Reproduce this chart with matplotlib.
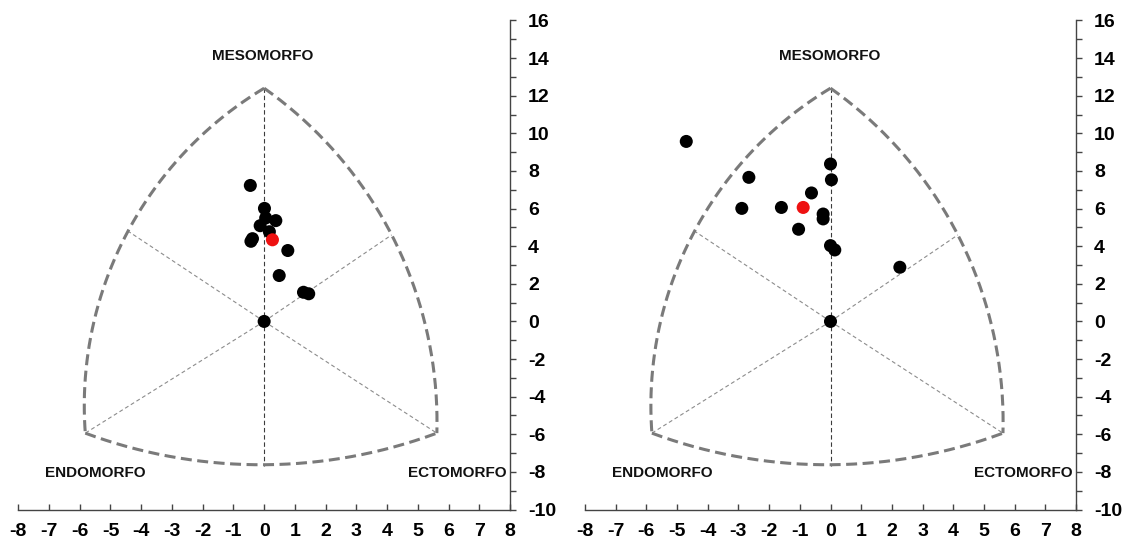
import numpy as np
import matplotlib
matplotlib.use("Agg")
import matplotlib.pyplot as plt

plt.rcParams["font.family"] = ["Liberation Sans", "DejaVu Sans"]
plt.rcParams["axes.unicode_minus"] = False

# Somatochart outline reference points (X, Y somatochart coordinates)
top_pt = (0.0, 12.4)
endo_pt = (-5.82, -5.94)
ecto_pt = (5.62, -5.94)
left_mid = (-4.43, 4.8)
right_mid = (4.15, 4.6)
bottom_pt = (0.0, -7.62)

# Group 1 somatotypes
g1_x = [-0.45, 0.01, 0.05, 0.38, -0.13, 0.17, -0.38, -0.43, 0.77, 0.49, 1.28, 1.45, 0.0]
g1_y = [7.23, 6.01, 5.50, 5.36, 5.09, 4.77, 4.40, 4.26, 3.77, 2.44, 1.55, 1.47, 0.0]
g1_mean = (0.27, 4.34)

# Group 2 somatotypes
g2_x = [-4.70, 0.0, 0.03, -2.66, -0.62, -2.89, -1.60, -0.24, -0.24, -1.04, 0.0, 0.14, 2.26, 0.0]
g2_y = [9.57, 8.37, 7.53, 7.66, 6.83, 6.01, 6.06, 5.71, 5.45, 4.90, 4.03, 3.80, 2.88, 0.0]
g2_mean = (-0.89, 6.06)

x_ticks = list(range(-8, 9))
y_ticks = list(range(-10, 17, 2))

ASPECT = 18.8 / 30.7  # vertical/horizontal screen scale of one unit


def arc(p0, pm, p1, n=200):
    """Circular arc (in screen proportions) through three points."""
    pts = np.array([p0, pm, p1], dtype=float)
    pts[:, 1] *= ASPECT
    (ax_, ay), (bx, by), (cx, cy) = pts
    d = 2 * (ax_ * (by - cy) + bx * (cy - ay) + cx * (ay - by))
    ux = ((ax_**2 + ay**2) * (by - cy) + (bx**2 + by**2) * (cy - ay) + (cx**2 + cy**2) * (ay - by)) / d
    uy = ((ax_**2 + ay**2) * (cx - bx) + (bx**2 + by**2) * (ax_ - cx) + (cx**2 + cy**2) * (bx - ax_)) / d
    r = np.hypot(ax_ - ux, ay - uy)
    a0 = np.arctan2(ay - uy, ax_ - ux)
    am = np.arctan2(by - uy, bx - ux)
    a1 = np.arctan2(cy - uy, cx - ux)
    ccw = lambda a: (a - a0) % (2 * np.pi)
    if ccw(am) < ccw(a1):
        t = np.linspace(a0, a0 + ccw(a1), n)
    else:
        t = np.linspace(a0, a0 - ((a0 - a1) % (2 * np.pi)), n)
    xs = ux + r * np.cos(t)
    ys = (uy + r * np.sin(t)) / ASPECT
    return xs, ys


def somatochart(ax, xs, ys, mean):
    arc_kw = dict(color="#7a7a7a", lw=2.2, linestyle=(0, (3.6, 1.8)), zorder=2)
    for p0, pm, p1 in [(top_pt, left_mid, endo_pt),
                       (top_pt, right_mid, ecto_pt),
                       (endo_pt, bottom_pt, ecto_pt)]:
        ax.plot(*arc(p0, pm, p1), **arc_kw)

    thin_kw = dict(color="#8c8c8c", lw=0.8, linestyle=(0, (3.5, 2.5)), zorder=1)
    for p in [left_mid, right_mid, endo_pt, ecto_pt]:
        ax.plot([0, p[0]], [0, p[1]], **thin_kw)
    ax.plot([0, 0], [top_pt[1], bottom_pt[1] - 0.05], color="#3c3c3c", lw=0.8,
            linestyle=(0, (4, 2.5)), zorder=1)

    ax.scatter(xs, ys, s=88, color="black", edgecolors="none", zorder=3)
    ax.scatter([mean[0]], [mean[1]], s=88, color="#ee1111", edgecolors="none", zorder=4)

    lab = dict(fontsize=11, fontweight="bold", color="#111111", va="center")
    ax.text(-0.04, 14.1, "MESOMORFO", ha="center", **lab)
    ax.text(-5.49, -8.06, "ENDOMORFO", ha="center", **lab)
    ax.text(7.9, -8.06, "ECTOMORFO", ha="right", **lab)

    ax.set_xlim(-8, 8)
    ax.set_ylim(-10, 16)
    for side in ["top", "left"]:
        ax.spines[side].set_visible(False)
    for side in ["bottom", "right"]:
        ax.spines[side].set_color("#444444")
        ax.spines[side].set_linewidth(1.0)
    ax.xaxis.set_ticks_position("bottom")
    ax.yaxis.set_ticks_position("right")
    ax.set_xticks(x_ticks)
    ax.set_xticklabels([str(v) for v in x_ticks])
    ax.set_yticks(y_ticks)
    ax.set_yticklabels([str(v) for v in y_ticks])
    ax.set_yticks(list(range(-9, 16, 2)), minor=True)
    ax.tick_params(axis="x", direction="in", length=4.5, width=1, color="#444444",
                   pad=10, labelsize=14)
    ax.tick_params(axis="y", which="both", direction="out", length=4, width=1,
                   color="#444444", pad=9, labelsize=14)
    for lbl in ax.get_xticklabels() + ax.get_yticklabels():
        lbl.set_fontweight("bold")
    ax.set_facecolor("none")


fig = plt.figure(figsize=(11.27, 5.43), dpi=100)
W, H = 1127, 543
ax1 = fig.add_axes([18.3 / W, 1 - 509.5 / H, (510 - 18.3) / W, (509.5 - 20.5) / H])
ax2 = fig.add_axes([585 / W, 1 - 509.5 / H, (1076 - 585) / W, (509.5 - 20.5) / H])

somatochart(ax1, g1_x, g1_y, g1_mean)
somatochart(ax2, g2_x, g2_y, g2_mean)

fig.savefig("out.png", dpi=100)
